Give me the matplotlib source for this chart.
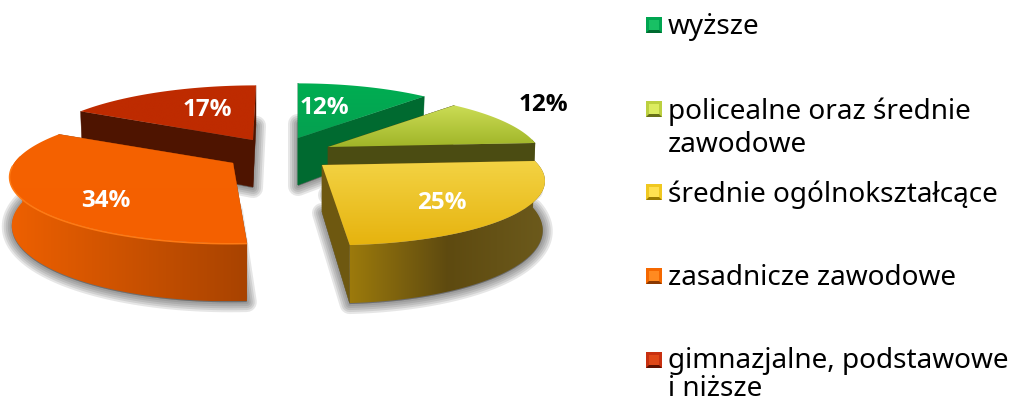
import numpy as np
import matplotlib
matplotlib.use("Agg")
import matplotlib.pyplot as plt
from matplotlib.patches import Polygon, Rectangle
from matplotlib.colors import LinearSegmentedColormap

# ---- data ----
categories = ["wyższe", "policealne oraz średnie\nzawodowe", "średnie ogólnokształcące",
              "zasadnicze zawodowe", "gimnazjalne, podstawowe\ni niższe"]
values = [12, 12, 25, 34, 17]
labels = ["12%", "12%", "25%", "34%", "17%"]

# ---- style ----
APEX = [(298, 138), (328, 147), (322, 165), (233, 163), (253, 140)]
WIDTH = [0.95, 0.95, 0.98, 0.99, 0.98]
SHEAR = [0, 0, -11, 3, 3]
LABEL_OFFSET = [(26, -30), (215, -42), (120, 38), (-127, 38), (-46, -30)]
LABEL_COLOR = ["white", "black", "white", "white", "white"]
TOP = [["#00AE52", "#05A050"], ["#CBDD55", "#A0B428"], ["#F3D344", "#E6B30E"],
       ["#F56200", "#F46000"], ["#BE2B00", "#BE2B00"]]
WALL = [["#006A30", "#006A30"], ["#4B4C12", "#4B4C12"], ["#9C7A0C", "#5E4A10", "#6C5A1C"],
        ["#EE6000", "#A84300"], ["#4E1400", "#4E1400"]]
RADIAL = ["#006A30", "#4B4C12", "#6E5810", "#A84300", "#4E1400"]
SWATCH = [("#00A550", "#18C064", "#006A30"), ("#BCD040", "#DCEC60", "#687018"),
          ("#F0C820", "#FFE050", "#9A7A00"), ("#F56800", "#FF8A20", "#8A3800"),
          ("#C83010", "#E04818", "#601000")]
LEGEND_BASE = [[34], [119, 152], [202], [285], [368, 396]]
SWATCH_Y = [25, 109, 192, 276, 360]
R, RY, K, DEPTH, SHRINK = 221, 65, 0.19, 47, 0.99
START = 90.0

fig = plt.figure(figsize=(10.12, 4.03), dpi=100)
ax = fig.add_axes([0, 0, 1, 1])
ax.axis("off")


def proj(i, theta_deg, low=False):
    apex = APEX[i]
    t = np.radians(theta_deg)
    s = 1 / (1 + K * np.sin(t))
    f = SHRINK if low else 1.0
    x = apex[0] + R * WIDTH[i] * f * np.cos(t) * s + SHEAR[i] * np.sin(t)
    y = apex[1] - RY * np.sin(t) * s
    if low:
        y = y + DEPTH * s
    return np.column_stack([x, y])


def gfill(pts, colors, horizontal=False):
    poly = Polygon(pts, closed=True, fc="none", ec="none", transform=ax.transData)
    ax.add_patch(poly)
    cmap = LinearSegmentedColormap.from_list("g", colors)
    g = np.linspace(0, 1, 256)
    arr = g[None, :] if horizontal else g[:, None]
    x0, y0 = pts.min(axis=0)
    x1, y1 = pts.max(axis=0)
    im = ax.imshow(arr, cmap=cmap, extent=(x0, x1, y1, y0), origin="upper",
                   aspect="auto", interpolation="bilinear", zorder=ZO[0])
    im.set_clip_path(poly)
    ZO[0] += 1


ZO = [3]
edges = START - np.cumsum([0] + values) * 3.6
order = [4, 0, 1, 2, 3]

# soft shadows below every slice
for i in order:
    th = np.linspace(edges[i], edges[i + 1], 80)
    low = proj(i, th, low=True)
    apex_low = np.array([[APEX[i][0], APEX[i][1] + DEPTH]])
    pts = np.vstack([apex_low, low]) + np.array([0, 1])
    for lw in [20, 16, 12, 8, 4]:
        ax.add_patch(Polygon(pts, closed=True, fc="#404040", ec="#404040", lw=lw * 0.72,
                             alpha=0.13, joinstyle="round", zorder=2))

for i in order:
    a = np.array(APEX[i], dtype=float)
    th = np.linspace(edges[i], edges[i + 1], 120)
    top = proj(i, th)
    low = proj(i, th, low=True)
    apex_low = a + np.array([0, DEPTH])
    # radial walls
    for pt_top, pt_low in [(top[0], low[0]), (top[-1], low[-1])]:
        pts = np.array([a, pt_top, pt_low, apex_low])
        ax.add_patch(Polygon(pts, closed=True, fc=RADIAL[i], ec=RADIAL[i], lw=0.3, zorder=ZO[0]))
        ZO[0] += 1
    # outer wall, only its front part is ever seen
    front = np.sin(np.radians(th)) < 0.12
    if front.any():
        wall = np.vstack([top[front], low[front][::-1]])
        gfill(wall, WALL[i], horizontal=True)
    # top face
    gfill(np.vstack([a, top]), TOP[i])
    rim_part = np.sin(np.radians(th)) < -0.02
    if i == 3:
        ax.plot(top[rim_part][:, 0], top[rim_part][:, 1] + 0.5, color="#FF7A14", lw=1.1,
                zorder=ZO[0], solid_capstyle="butt")
        ZO[0] += 1
    dx, dy = LABEL_OFFSET[i]
    ax.text(a[0] + dx, a[1] + dy, labels[i], color=LABEL_COLOR[i], ha="center", va="center",
            family="Open Sans", fontweight="bold", fontsize=17.5, zorder=200)

# legend
for i, name in enumerate(categories):
    c, hi, lo = SWATCH[i]
    x0, x1, yc = 646, 662, SWATCH_Y[i]
    y0, y1 = yc - 8, yc + 8
    b = 3
    ax.add_patch(Rectangle((x0, y0), x1 - x0, y1 - y0, fc=c, ec="none", zorder=100))
    ax.add_patch(Polygon([(x0, y1), (x1, y1), (x1 - b, y1 - b), (x0 + b, y1 - b)], fc=lo, ec="none", zorder=101))
    ax.add_patch(Rectangle((x0 + b, y0 + b), x1 - x0 - 2 * b, y1 - y0 - 2 * b, fc=hi, ec="none", zorder=102))
    for line, base in zip(name.split("\n"), LEGEND_BASE[i]):
        ax.text(668, base, line, color="black", ha="left", va="baseline",
                family="Noto Sans", fontsize=20.1, zorder=200)

ax.set_xlim(0, 1012)
ax.set_ylim(403, 0)
fig.savefig("out.png", dpi=100, facecolor="white")
